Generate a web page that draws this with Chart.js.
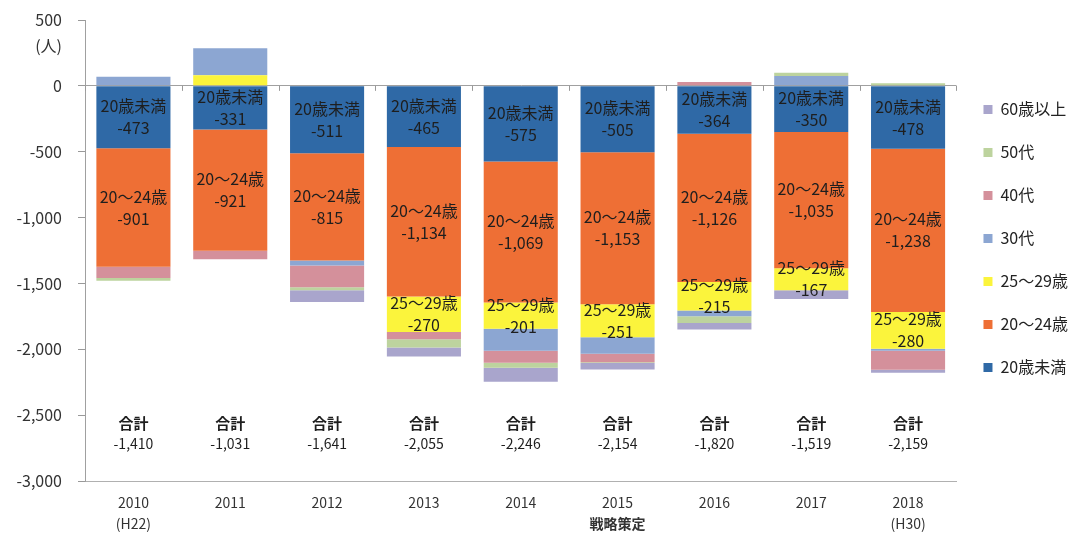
<!DOCTYPE html>
<html lang="ja">
<head>
<meta charset="utf-8">
<script src="https://cdn.jsdelivr.net/npm/chart.js@4.4.1/dist/chart.umd.min.js"></script>
<style>
  html, body { margin: 0; padding: 0; background: #fff; }
</style>
</head>
<body>
<canvas id="mycanvas" width="1078" height="536"></canvas>
<script>
// 年別・年齢階級別の社会増減（人）
const years = [['2010', '(H22)'], '2011', '2012', '2013', '2014', '2015', '2016', '2017', ['2018', '(H30)']];

const under20  = [-473, -331, -511, -465, -575, -505, -364, -350, -478];
const age20_24 = [-901, -921, -815, -1134, -1069, -1153, -1126, -1035, -1238];
const age25_29 = [0, 80, 0, -270, -201, -251, -215, -167, -280];
const age30s   = [70, 205, -38, 0, -167, -125, -45, 75, -15];
const age40s   = [-85, -64, -165, -55, -91, -65, 30, 0, -145];
const age50s   = [-21, 0, -22, -63, -38, -5, -50, 25, 20];
const over60   = [0, 0, -90, -68, -105, -50, -50, -67, -23];

const totals = [-1410, -1031, -1641, -2055, -2246, -2154, -1820, -1519, -2159];

const seriesNames = ['20歳未満', '20～24歳', '25～29歳', '30代', '40代', '50代', '60歳以上'];
const seriesData = [under20, age20_24, age25_29, age30s, age40s, age50s, over60];
const seriesColors = ['#2f69a6', '#ee6f35', '#fbf43c', '#8ca6d2', '#d4909b', '#bdd39e', '#a9a5cc'];

const yMin = -3000, yMax = 500, yStep = 500;

const FONT = '"Noto Sans CJK JP", "Noto Sans", sans-serif';

const fmt = v => v.toLocaleString('en-US');

// labels inside bars, totals row, unit, and small marks on the zero line
const textPlugin = {
  id: 'textLabels',
  afterDatasetsDraw(chart) {
    const ctx = chart.ctx;
    const xs = chart.scales.x, ys = chart.scales.y;
    ctx.save();

    // zero line ticks between categories
    const y0 = ys.getPixelForValue(0);
    const step = xs.getPixelForValue(1) - xs.getPixelForValue(0);
    ctx.strokeStyle = '#999';
    ctx.lineWidth = 1;
    for (let i = 0; i <= years.length; i++) {
      const px = Math.round(xs.getPixelForValue(0) - step / 2 + i * step) + 0.5;
      ctx.beginPath();
      ctx.moveTo(px, y0);
      ctx.lineTo(px, y0 + 5);
      ctx.stroke();
    }

    ctx.fillStyle = '#1e1e1e';
    ctx.textAlign = 'center';
    ctx.textBaseline = 'middle';
    ctx.font = '16px ' + FONT;
    [0, 1, 2].forEach(d => {
      const meta = chart.getDatasetMeta(d);
      meta.data.forEach((bar, i) => {
        const v = seriesData[d][i];
        if (v > -100) return;
        const mid = (bar.y + bar.base) / 2;
        ctx.fillText(seriesNames[d], bar.x, mid - 11);
        ctx.fillText(fmt(v), bar.x, mid + 11);
      });
    });

    // 合計
    totals.forEach((t, i) => {
      const cx = xs.getPixelForValue(i);
      ctx.font = 'bold 15px ' + FONT;
      ctx.fillText('合計', cx, ys.getPixelForValue(-2560));
      ctx.font = '14px ' + FONT;
      ctx.fillText(fmt(t), cx, ys.getPixelForValue(-2720));
    });

    // 戦略策定 under 2015
    ctx.font = 'bold 14px ' + FONT;
    ctx.fillStyle = '#333';
    ctx.fillText('戦略策定', xs.getPixelForValue(5), xs.top + 11 + 21 + 10.5);

    // unit
    ctx.font = '16px ' + FONT;
    ctx.textAlign = 'right';
    ctx.fillText('(人)', ys.right - 23, ys.getPixelForValue(300));

    ctx.restore();
  }
};

new Chart(document.getElementById('mycanvas'), {
  type: 'bar',
  data: {
    labels: years,
    datasets: seriesNames.map((name, k) => ({
      label: name,
      data: seriesData[k],
      backgroundColor: seriesColors[k],
      borderWidth: 0,
      categoryPercentage: 1,
      barPercentage: 0.765
    }))
  },
  options: {
    responsive: false,
    animation: false,
    layout: { padding: { top: 20, right: 0, bottom: 0, left: 0 } },
    plugins: {
      tooltip: { enabled: false },
      legend: {
        position: 'right',
        align: 'start',
        reverse: true,
        maxWidth: 123,
        title: { display: true, text: ' ', padding: { top: 0, bottom: 40 }, font: { size: 12 } },
        labels: {
          boxWidth: 9,
          boxHeight: 9,
          padding: 27,
          color: '#222',
          font: { family: FONT, size: 16 }
        }
      }
    },
    scales: {
      x: {
        stacked: true,
        grid: { display: false, drawTicks: false },
        border: { display: true, color: '#b0b0b0' },
        ticks: {
          color: '#333',
          padding: 11,
          maxRotation: 0,
          autoSkip: false,
          font: { family: FONT, size: 14, lineHeight: 1.5 }
        },
        afterFit: s => { s.height = 55; }
      },
      y: {
        stacked: true,
        min: yMin,
        max: yMax,
        grid: {
          color: c => (c.tick && c.tick.value === 0 ? '#a0a0a0' : 'transparent'),
          tickColor: '#999',
          tickLength: 7
        },
        border: { display: true, color: '#a0a0a0' },
        ticks: {
          stepSize: yStep,
          padding: 16,
          color: '#333',
          font: { family: FONT, size: 16 },
          callback: v => fmt(v)
        },
        afterFit: s => { s.width = 85; s.paddingTop = 0; }
      }
    }
  },
  plugins: [textPlugin]
});
</script>
</body>
</html>
